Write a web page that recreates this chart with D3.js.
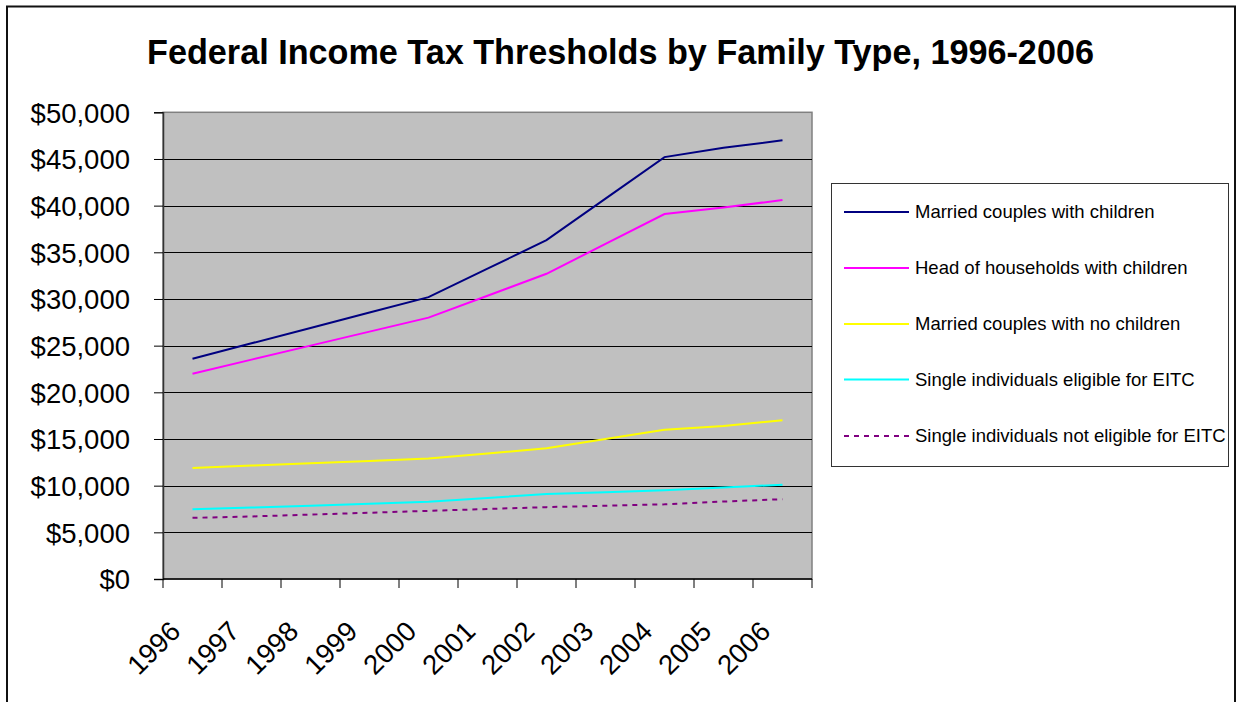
<!DOCTYPE html>
<html>
<head>
<meta charset="utf-8">
<script src="https://cdn.jsdelivr.net/npm/d3@7"></script>
<style>
  html, body { margin: 0; padding: 0; background: #fff; }
  svg { display: block; font-family: "Liberation Sans", Arial, sans-serif; }
</style>
</head>
<body>
<svg id="chart" width="1236" height="702"></svg>
<script>
const years = ["1996","1997","1998","1999","2000","2001","2002","2003","2004","2005","2006"];
const marriedWithChildren = [23600, 25250, 26900, 28550, 30200, 33250, 36300, 40750, 45200, 46200, 47000];
const headWithChildren    = [22000, 23500, 25000, 26500, 28000, 30350, 32700, 35900, 39100, 39800, 40600];
const marriedNoChildren   = [11900, 12150, 12400, 12650, 12900, 13450, 14000, 15000, 16000, 16400, 17000];
const singleEITC          = [7470, 7650, 7850, 8050, 8270, 8680, 9100, 9300, 9500, 9800, 10100];
const singleNoEITC        = [6550, 6700, 6900, 7100, 7300, 7500, 7700, 7850, 8000, 8300, 8550];
const seriesNames = [
  "Married couples with children",
  "Head of households with children",
  "Married couples with no children",
  "Single individuals eligible for EITC",
  "Single individuals not eligible for EITC"
];
const seriesColors = ["#000080", "#ff00ff", "#ffff00", "#00ffff", "#800080"];
const seriesDash = [null, null, null, null, "5,5"];
const yTicks = [0, 5000, 10000, 15000, 20000, 25000, 30000, 35000, 40000, 45000, 50000];
const title = "Federal Income Tax Thresholds by Family Type, 1996-2006";

const series = [marriedWithChildren, headWithChildren, marriedNoChildren, singleEITC, singleNoEITC]
  .map((vals, i) => ({ name: seriesNames[i], color: seriesColors[i], dash: seriesDash[i], values: vals }));

const svg = d3.select("#chart");
const plot = { left: 163, right: 812, top: 112.3, bottom: 579 };

// outer frame
svg.append("rect").attr("x", 7).attr("y", 6.5).attr("width", 1228).attr("height", 760)
  .attr("fill", "none").attr("stroke", "#111").attr("stroke-width", 2);

// title
svg.append("text").attr("x", 620.5).attr("y", 63.5).attr("text-anchor", "middle")
  .attr("font-size", 34.2).attr("font-weight", "bold").attr("fill", "#000").text(title);

const x = d3.scaleBand().domain(years).range([plot.left, plot.right]).paddingInner(0).paddingOuter(0);
const y = d3.scaleLinear().domain([0, 50000]).range([plot.bottom, plot.top]);

// plot background
svg.append("rect").attr("x", plot.left).attr("y", plot.top)
  .attr("width", plot.right - plot.left).attr("height", plot.bottom - plot.top)
  .attr("fill", "#c0c0c0").attr("stroke", "#808080").attr("stroke-width", 1.5);

// gridlines
svg.append("g").selectAll("line").data(yTicks.filter(d => d > 0 && d < 50000)).join("line")
  .attr("x1", plot.left).attr("x2", plot.right)
  .attr("y1", d => Math.round(y(d)) + 0.5).attr("y2", d => Math.round(y(d)) + 0.5)
  .attr("stroke", "#000").attr("stroke-width", 1);

// y axis
const yAxis = d3.axisLeft(y).tickValues(yTicks).tickSize(9).tickPadding(24)
  .tickFormat(d => "$" + d3.format(",")(d));
const gy = svg.append("g").attr("transform", `translate(${plot.left},0)`).call(yAxis);
gy.select(".domain").attr("stroke", "#333").attr("stroke-width", 1.5);
gy.selectAll(".tick line").attr("stroke", "#000");
gy.selectAll(".tick text").attr("font-size", 27.5).attr("fill", "#000")
  .attr("font-family", "'Liberation Sans', Arial, sans-serif").attr("dy", "0.36em");

// x axis line + ticks at category boundaries
svg.append("line").attr("x1", plot.left).attr("x2", plot.right)
  .attr("y1", plot.bottom).attr("y2", plot.bottom).attr("stroke", "#000").attr("stroke-width", 1.5);
const boundaries = years.map(d => x(d)).concat([x(years[years.length - 1]) + x.bandwidth()]);
svg.append("g").selectAll("line").data(boundaries).join("line")
  .attr("x1", d => d).attr("x2", d => d)
  .attr("y1", plot.bottom).attr("y2", plot.bottom + 9)
  .attr("stroke", "#000").attr("stroke-width", 1);

// x labels
svg.append("g").selectAll("text").data(years).join("text")
  .attr("transform", d => `translate(${x(d) + x.bandwidth() / 2 - 10.5},633) rotate(-45)`)
  .attr("text-anchor", "end").attr("font-size", 27.5).attr("fill", "#000").text(d => d);

// lines
const line = d3.line().x((d, i) => x(years[i]) + x.bandwidth() / 2).y(d => y(d));
svg.append("g").selectAll("path").data(series).join("path")
  .attr("d", d => line(d.values))
  .attr("fill", "none").attr("stroke", d => d.color).attr("stroke-width", 2)
  .attr("stroke-dasharray", d => d.dash);

// legend
const lg = svg.append("g");
lg.append("rect").attr("x", 831.5).attr("y", 183.5).attr("width", 397).attr("height", 283)
  .attr("fill", "#fff").attr("stroke", "#333").attr("stroke-width", 1);
const legendY = [212, 268, 324, 379.5, 436];
const items = lg.selectAll("g").data(series).join("g")
  .attr("transform", (d, i) => `translate(0,${legendY[i]})`);
items.append("line").attr("x1", 844).attr("x2", 909).attr("y1", 0).attr("y2", 0)
  .attr("stroke", d => d.color).attr("stroke-width", 2).attr("stroke-dasharray", d => d.dash);
items.append("text").attr("x", 915).attr("y", 0).attr("dy", "0.35em")
  .attr("font-size", 18.5).attr("fill", "#000").text(d => d.name);
</script>
</body>
</html>
